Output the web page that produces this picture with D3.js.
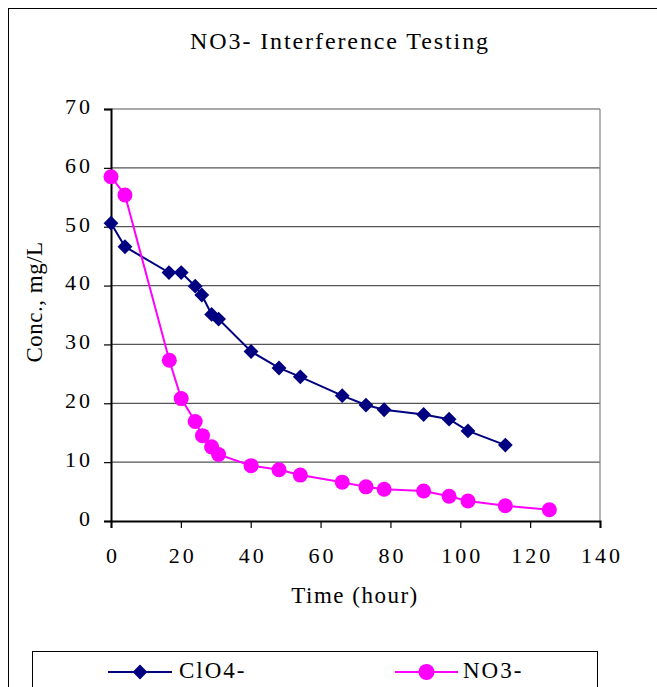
<!DOCTYPE html>
<html lang="en">
<head>
    <meta charset="UTF-8">
    <title>NO3- Interference Testing</title>
    <script src="https://d3js.org/d3.v7.min.js"></script>
    <style>
        body { margin: 0; background: #fff; }
        text { font-family: "Liberation Serif", "Times New Roman", serif; fill: #000; }
        .grid line { stroke: #555; stroke-width: 1.2; }
    </style>
</head>
<body>
    <svg id="chart"></svg>
    <script>
        const width = 657;
        const height = 687;

        // data
        const clo4Time = [0, 4, 16.6, 20.1, 24.1, 26, 28.8, 30.8, 40.1, 48.1, 54.2, 66.2, 73, 78.2, 89.5, 96.8, 102.2, 112.9];
        const clo4Conc = [50.6, 46.6, 42.2, 42.2, 39.9, 38.4, 35.1, 34.3, 28.8, 26.0, 24.5, 21.3, 19.7, 18.9, 18.1, 17.3, 15.3, 12.9];
        const no3Time = [0, 4, 16.7, 20.1, 24.1, 26.2, 28.8, 30.8, 40.1, 48.1, 54.2, 66.2, 73, 78.2, 89.5, 96.8, 102.2, 112.9, 125.5];
        const no3Conc = [58.5, 55.4, 27.3, 20.8, 16.9, 14.5, 12.6, 11.3, 9.4, 8.7, 7.8, 6.6, 5.8, 5.4, 5.1, 4.2, 3.4, 2.6, 1.9];
        const xTicks = [0, 20, 40, 60, 80, 100, 120, 140];
        const yTicks = [0, 10, 20, 30, 40, 50, 60, 70];

        const svg = d3.select('#chart')
            .attr('width', width)
            .attr('height', height);

        // outer chart border
        svg.append('rect')
            .attr('x', 8.5).attr('y', 8.5)
            .attr('width', 660).attr('height', 700)
            .attr('fill', 'none').attr('stroke', '#000').attr('stroke-width', 1);

        const plotLeft = 111, plotRight = 600, plotTop = 109, plotBottom = 521;

        const x = d3.scaleLinear().domain([0, 140]).range([plotLeft, plotRight]);
        const y = d3.scaleLinear().domain([0, 70]).range([plotBottom, plotTop]);

        // title
        svg.append('text')
            .attr('x', 340).attr('y', 49)
            .attr('text-anchor', 'middle')
            .attr('font-size', 24)
            .attr('letter-spacing', 1.9)
            .text('NO3- Interference Testing');

        // gridlines
        svg.append('g').attr('class', 'grid')
            .selectAll('line')
            .data(yTicks.filter(d => d > 0))
            .enter().append('line')
            .attr('x1', plotLeft).attr('x2', plotRight)
            .attr('y1', d => y(d)).attr('y2', d => y(d));

        // right border of plot area
        svg.append('line')
            .attr('x1', plotRight).attr('x2', plotRight)
            .attr('y1', plotTop).attr('y2', plotBottom)
            .attr('stroke', '#808080').attr('stroke-width', 1.2);

        // axes
        const yAxis = svg.append('g')
            .attr('transform', `translate(${plotLeft},0)`)
            .call(d3.axisLeft(y).tickValues(yTicks).tickSize(7).tickPadding(11));
        const xAxis = svg.append('g')
            .attr('transform', `translate(0,${plotBottom})`)
            .call(d3.axisBottom(x).tickValues(xTicks).tickSize(7).tickPadding(19));

        [yAxis, xAxis].forEach(g => {
            g.select('.domain').attr('stroke', '#000').attr('stroke-width', 2);
            g.selectAll('.tick line').attr('stroke', '#000').attr('stroke-width', 1.2);
            g.selectAll('.tick text')
                .attr('font-family', '"Liberation Serif", serif')
                .attr('font-size', 22)
                .attr('letter-spacing', 3);
        });
        yAxis.selectAll('.tick text').attr('dy', '0.2em');
        xAxis.selectAll('.tick text').attr('dx', 1.5);

        // axis titles
        svg.append('text')
            .attr('x', 355).attr('y', 603)
            .attr('text-anchor', 'middle')
            .attr('font-size', 23)
            .attr('letter-spacing', 1.5)
            .text('Time (hour)');

        svg.append('text')
            .attr('transform', 'translate(42,302) rotate(-90)')
            .attr('text-anchor', 'middle')
            .attr('font-size', 23)
            .attr('letter-spacing', 0.5)
            .text('Conc., mg/L');

        const clo4 = clo4Time.map((t, i) => ({ t: t, c: clo4Conc[i] }));
        const no3 = no3Time.map((t, i) => ({ t: t, c: no3Conc[i] }));

        const line = d3.line().x(d => x(d.t)).y(d => y(d.c));
        // square turned 45 degrees gives the Excel style diamond
        const diamond = d3.symbol().type(d3.symbolSquare).size(110);

        // ClO4- series
        svg.append('path')
            .datum(clo4)
            .attr('d', line)
            .attr('fill', 'none')
            .attr('stroke', '#000080')
            .attr('stroke-width', 2);

        svg.selectAll('.clo4')
            .data(clo4)
            .enter().append('path')
            .attr('class', 'clo4')
            .attr('d', diamond)
            .attr('transform', d => `translate(${x(d.t)},${y(d.c)}) rotate(45)`)
            .attr('fill', '#000080');

        // NO3- series
        svg.append('path')
            .datum(no3)
            .attr('d', line)
            .attr('fill', 'none')
            .attr('stroke', '#ff00ff')
            .attr('stroke-width', 2);

        svg.selectAll('.no3')
            .data(no3)
            .enter().append('circle')
            .attr('class', 'no3')
            .attr('cx', d => x(d.t))
            .attr('cy', d => y(d.c))
            .attr('r', 7.5)
            .attr('fill', '#ff00ff');

        // legend
        const legend = svg.append('g');
        legend.append('rect')
            .attr('x', 32.5).attr('y', 651.5)
            .attr('width', 565).attr('height', 60)
            .attr('fill', '#fff').attr('stroke', '#000').attr('stroke-width', 1);

        const legendItems = [
            { name: 'ClO4-', color: '#000080', x1: 108, x2: 172, tx: 179, shape: 'diamond' },
            { name: 'NO3-', color: '#ff00ff', x1: 395, x2: 458, tx: 463, shape: 'circle' }
        ];
        legendItems.forEach(it => {
            const cy = 672;
            legend.append('line')
                .attr('x1', it.x1).attr('x2', it.x2)
                .attr('y1', cy).attr('y2', cy)
                .attr('stroke', it.color).attr('stroke-width', 2);
            const mx = (it.x1 + it.x2) / 2;
            if (it.shape === 'diamond') {
                legend.append('path')
                    .attr('d', diamond)
                    .attr('transform', `translate(${mx},${cy}) rotate(45)`)
                    .attr('fill', it.color);
            } else {
                legend.append('circle')
                    .attr('cx', mx).attr('cy', cy).attr('r', 8)
                    .attr('fill', it.color);
            }
            legend.append('text')
                .attr('x', it.tx).attr('y', 678)
                .attr('font-size', 23)
                .attr('letter-spacing', 2)
                .text(it.name);
        });
    </script>
</body>
</html>
